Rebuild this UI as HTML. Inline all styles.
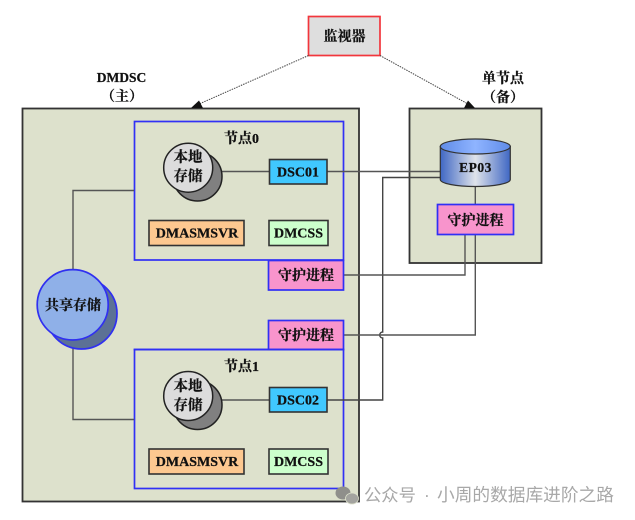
<!DOCTYPE html>
<html><head><meta charset="utf-8">
<style>
html,body{margin:0;padding:0;background:#fff;width:635px;height:520px;overflow:hidden}
svg{display:block}
text{font-family:"Liberation Serif","Noto Serif CJK SC",serif;font-weight:700;fill:#111;text-anchor:middle;stroke:#111;stroke-width:.25}
.c{font-family:"Noto Serif CJK SC","Liberation Serif",serif;font-weight:700}
.w{font-family:"Liberation Sans","Noto Sans CJK SC",sans-serif;font-weight:400;fill:#a8a8a8;stroke:none;text-anchor:start}
</style></head><body>
<svg width="635" height="520" viewBox="0 0 635 520" xmlns="http://www.w3.org/2000/svg">
<defs>
<linearGradient id="cy" x1="0" x2="1" y1="0" y2="0">
<stop offset="0" stop-color="#3f67c4"/><stop offset=".5" stop-color="#dfe3ea"/><stop offset="1" stop-color="#3f67c4"/>
</linearGradient>
<linearGradient id="cyt" x1="0" x2="1" y1="0" y2="0">
<stop offset="0" stop-color="#5f8be8"/><stop offset=".5" stop-color="#8fb4ff"/><stop offset="1" stop-color="#5f8be8"/>
</linearGradient>
</defs>

<!-- containers -->
<rect x="22.5" y="108.5" width="336.5" height="393" fill="#dde1cc" stroke="#333" stroke-width="1.8"/>
<rect x="409.5" y="108.5" width="132" height="154.5" fill="#dde1cc" stroke="#333" stroke-width="1.8"/>

<!-- monitor -->
<rect x="308.5" y="16.5" width="71.5" height="39" fill="#dedede" stroke="#f2363c" stroke-width="1.7"/>
<text class="c" x="344.5" y="41" font-size="14">监视器</text>

<!-- dotted arrows -->
<line x1="308.5" y1="55.5" x2="198" y2="104.5" stroke="#444" stroke-width="1" stroke-dasharray="1.5 1"/>
<polygon points="191,108 199,100.5 203,108" fill="#111"/>
<line x1="380" y1="55.5" x2="468" y2="104" stroke="#444" stroke-width="1" stroke-dasharray="1.5 1"/>
<polygon points="475,108 464,108 468,100.5" fill="#111"/>

<text x="121.5" y="82" font-size="13.5">DMDSC</text>
<text class="c" x="122" y="101" font-size="14">（主）</text>
<text class="c" x="503" y="83" font-size="14">单节点</text>
<text class="c" x="503" y="102" font-size="14">（备）</text>

<!-- node 0 -->
<rect x="134.5" y="121.5" width="209" height="138.5" fill="#dde1cc" stroke="#3030f5" stroke-width="1.7"/>
<text class="c" x="241.5" y="143" font-size="14">节点<tspan font-family="Liberation Serif">0</tspan></text>

<!-- node 1 -->
<rect x="134.5" y="349.5" width="209" height="139" fill="#dde1cc" stroke="#3030f5" stroke-width="1.7"/>
<text class="c" x="241.5" y="371" font-size="14">节点<tspan font-family="Liberation Serif">1</tspan></text>

<!-- connectors -->
<g fill="none" stroke="#555" stroke-width="1.4">
<path d="M134 190.5H73V270"/>
<path d="M73 340V419.5H134"/>
<path d="M213 171.5H269"/>
<path d="M213 400H269"/>
<path d="M327 171.5H440"/>
<path d="M440 177.5H382.7V332 A3 3 0 0 0 382.7 338 V400H327" stroke="#444"/>
<path d="M343 275H465V234"/>
<path d="M343 335H475.3V234"/>
<path d="M475.3 186V204"/>
</g>

<!-- node 0 content -->
<ellipse cx="197.5" cy="176.5" rx="24.5" ry="24.5" fill="#808080" stroke="#222" stroke-width="1.5"/>
<ellipse cx="188.2" cy="167.7" rx="24.5" ry="24.5" fill="#dcdcdc" stroke="#222" stroke-width="1.5"/>
<text class="c" x="188" y="162" font-size="14.5">本地</text>
<text class="c" x="188" y="181" font-size="14.5">存储</text>
<rect x="269.5" y="159.5" width="57.5" height="24.5" fill="#40c8ff" stroke="#333" stroke-width="1.6"/>
<text x="298" y="176.5" font-size="14">DSC01</text>
<rect x="149" y="220.5" width="95" height="25" fill="#fdc890" stroke="#333" stroke-width="1.6"/>
<text x="197" y="237.5" font-size="14">DMASMSVR</text>
<rect x="269" y="220.5" width="59" height="25" fill="#ccffcc" stroke="#333" stroke-width="1.6"/>
<text x="298.5" y="237.5" font-size="14">DMCSS</text>

<!-- node 1 content -->
<ellipse cx="197.5" cy="405" rx="24.5" ry="24.5" fill="#808080" stroke="#222" stroke-width="1.5"/>
<ellipse cx="188.2" cy="396" rx="24.5" ry="24.5" fill="#dcdcdc" stroke="#222" stroke-width="1.5"/>
<text class="c" x="188" y="391" font-size="14.5">本地</text>
<text class="c" x="188" y="410" font-size="14.5">存储</text>
<rect x="269.5" y="387.5" width="57.5" height="24.5" fill="#40c8ff" stroke="#333" stroke-width="1.6"/>
<text x="298" y="404.5" font-size="14">DSC02</text>
<rect x="149" y="449" width="95" height="25" fill="#fdc890" stroke="#333" stroke-width="1.6"/>
<text x="197" y="466" font-size="14">DMASMSVR</text>
<rect x="269" y="449" width="59" height="25" fill="#ccffcc" stroke="#333" stroke-width="1.6"/>
<text x="298.5" y="466" font-size="14">DMCSS</text>

<!-- guards -->
<rect x="268.5" y="260.5" width="75" height="29.5" fill="#f894cc" stroke="#3030f5" stroke-width="1.7"/>
<text class="c" x="306" y="280" font-size="14">守护进程</text>
<rect x="268.5" y="320.5" width="75" height="29" fill="#f894cc" stroke="#3030f5" stroke-width="1.7"/>
<text class="c" x="306" y="340" font-size="14">守护进程</text>
<rect x="134.5" y="349.5" width="209" height="0.1" fill="none" stroke="#3030f5" stroke-width="1.7"/>

<!-- shared storage -->
<ellipse cx="81.5" cy="313.5" rx="35.5" ry="35.5" fill="#5c7195" stroke="#3030f0" stroke-width="1.7"/>
<ellipse cx="72.7" cy="304.8" rx="35.5" ry="35.2" fill="#8fb0e8" stroke="#3030f0" stroke-width="1.7"/>
<text class="c" x="73" y="310" font-size="14">共享存储</text>

<!-- cylinder -->
<path d="M440.3 146.5V179.5C440.3 183.5 456 186.5 475.3 186.5C494.6 186.5 510.3 183.5 510.3 179.5V146.5Z" fill="url(#cy)" stroke="#333" stroke-width="1.2"/>
<ellipse cx="475.3" cy="146.5" rx="35" ry="7.5" fill="url(#cyt)" stroke="#333" stroke-width="1.2"/>
<text x="475.5" y="172" font-size="13.5" letter-spacing=".5">EP03</text>

<!-- standby guard -->
<rect x="437.5" y="204.5" width="76" height="30" fill="#f894cc" stroke="#3030f5" stroke-width="1.7"/>
<text class="c" x="475.5" y="225" font-size="14">守护进程</text>

<!-- watermark -->
<g>
<ellipse cx="343" cy="493" rx="7.5" ry="6.5" fill="#8f8f8b"/>
<ellipse cx="352" cy="498.5" rx="6.5" ry="5.5" fill="#a3a39f" stroke="#dde1cc" stroke-width=".8"/>
</g>
<text class="w" x="364" y="501" font-size="17.3">公众号</text>
<text class="w" x="424" y="501" font-size="17.3">·</text>
<text class="w" x="437" y="501" font-size="17.7">小周的数据库进阶之路</text>
</svg>
</body></html>
